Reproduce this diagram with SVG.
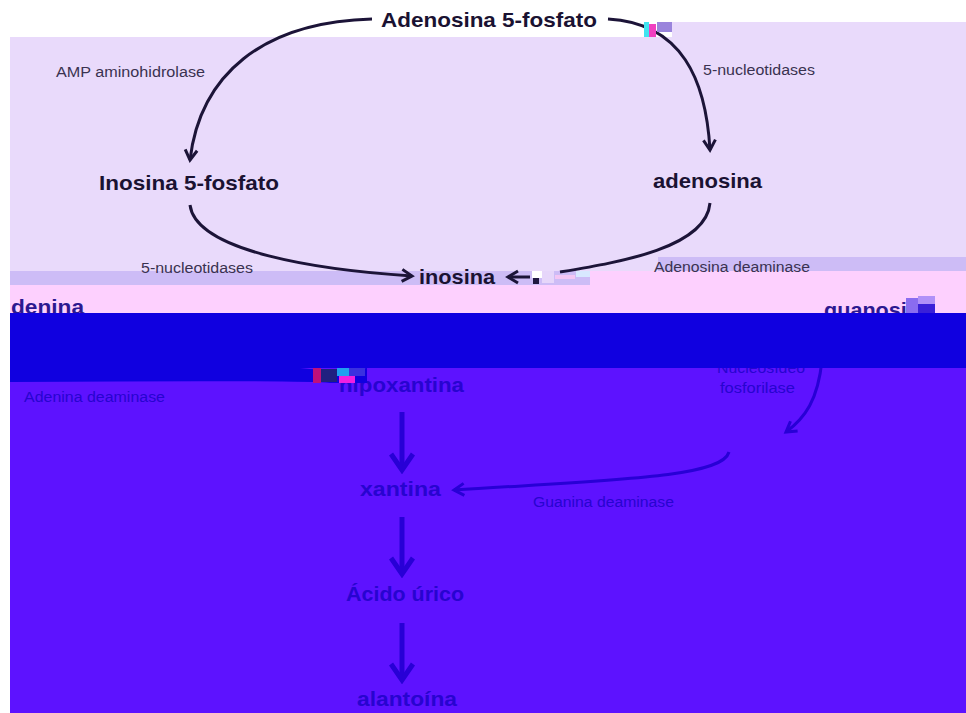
<svg xmlns="http://www.w3.org/2000/svg" width="966" height="713" viewBox="0 0 966 713">
<defs>
<style>
.b{font-family:"Liberation Sans","Noto Sans",sans-serif;font-weight:bold;font-size:21px;fill:#1a1232}
.r{font-family:"Liberation Sans","Noto Sans",sans-serif;font-size:14px;fill:#3a3250}
.bb{font-family:"Liberation Sans","Noto Sans",sans-serif;font-weight:bold;font-size:21px;fill:#2804d0}
.rb{font-family:"Liberation Sans","Noto Sans",sans-serif;font-size:14px;fill:#2804d0}
.pk{font-family:"Liberation Sans","Noto Sans",sans-serif;font-weight:bold;font-size:21px;fill:#2c1890}
.c{fill:none;stroke:#1c1438;stroke-width:3}
.cb{fill:none;stroke:#2800d6;stroke-width:3}
.v{fill:none;stroke:#2800d6;stroke-width:5}
</style>
<marker id="ah" markerUnits="userSpaceOnUse" markerWidth="16" markerHeight="16" refX="13" refY="8" orient="auto">
<path d="M3,2 L13,8 L3,14" fill="none" stroke="#1c1438" stroke-width="3"/>
</marker>
<marker id="ahb" markerUnits="userSpaceOnUse" markerWidth="16" markerHeight="16" refX="13" refY="8" orient="auto">
<path d="M3,2 L13,8 L3,14" fill="none" stroke="#2800d6" stroke-width="3"/>
</marker>
<marker id="ahv" markerUnits="userSpaceOnUse" markerWidth="24" markerHeight="26" refX="20" refY="13" orient="auto">
<path d="M4,2 L20,13 L4,24" fill="none" stroke="#2800d6" stroke-width="5"/>
</marker>
</defs>
<rect width="966" height="713" fill="#ffffff"/>
<g id="background">
<rect x="10" y="37" width="662" height="234" fill="#e9dafb"/>
<rect x="672" y="22" width="294" height="235" fill="#e9dafb"/>
<rect x="590" y="257" width="68" height="14" fill="#e9dafb"/>
<rect x="658" y="257" width="308" height="14" fill="#cdbcf6"/>
<rect x="10" y="271" width="580" height="14" fill="#cdbcf6"/>
<rect x="590" y="271" width="376" height="14" fill="#fdd0fe"/>
<rect x="10" y="285" width="956" height="28" fill="#fdd0fe"/>
<rect x="10" y="368" width="956" height="345" fill="#5d12ff"/>
</g>
<g id="connectors">
<path class="c" d="M372 19 C262 22 200 75 190 160" marker-end="url(#ah)"/>
<path class="c" d="M608 19 C682 23 706 80 710 150" marker-end="url(#ah)"/>
<path class="c" d="M190 205 C196 252 320 270 412 276" marker-end="url(#ah)"/>
<path class="c" d="M710 203 C706 248 620 262 560 272"/>
<path class="c" d="M530 277 L508 277" marker-end="url(#ah)"/>
<path class="cb" d="M822 360 C818 400 805 418 786 432" marker-end="url(#ahb)"/>
<path class="cb" d="M729 452 C722 478 610 480 454 490" marker-end="url(#ahb)"/>
<path class="v" d="M402 412 L402 470" marker-end="url(#ahv)"/>
<path class="v" d="M402 517 L402 574" marker-end="url(#ahv)"/>
<path class="v" d="M402 623 L402 680" marker-end="url(#ahv)"/>
</g>
<g id="n-amp"><text class="b" x="381" y="27" textLength="216" lengthAdjust="spacingAndGlyphs">Adenosina 5-fosfato</text></g>
<g id="l-amp-aminohidrolase"><text class="r" x="56" y="77" textLength="149" lengthAdjust="spacingAndGlyphs">AMP aminohidrolase</text></g>
<g id="l-5nuc-1"><text class="r" x="703" y="75" textLength="112" lengthAdjust="spacingAndGlyphs">5-nucleotidases</text></g>
<g id="n-imp"><text class="b" x="99" y="190" textLength="180" lengthAdjust="spacingAndGlyphs">Inosina 5-fosfato</text></g>
<g id="n-adenosina"><text class="b" x="653" y="188" textLength="109" lengthAdjust="spacingAndGlyphs">adenosina</text></g>
<g id="l-5nuc-2"><text class="r" x="141" y="273" textLength="112" lengthAdjust="spacingAndGlyphs">5-nucleotidases</text></g>
<g id="n-inosina"><text class="b" x="419" y="284" textLength="76" lengthAdjust="spacingAndGlyphs">inosina</text></g>
<g id="l-adenosina-deaminase"><text class="r" x="654" y="272" textLength="156" lengthAdjust="spacingAndGlyphs">Adenosina deaminase</text></g>
<g id="n-adenina"><text class="pk" x="11" y="314" textLength="73" lengthAdjust="spacingAndGlyphs">denina</text></g>
<g id="n-guanosina"><text class="pk" x="824" y="317" textLength="108" lengthAdjust="spacingAndGlyphs">guanosina</text></g>
<g id="n-hipoxantina"><text class="bb" x="339" y="392" textLength="125" lengthAdjust="spacingAndGlyphs">hipoxantina</text></g>
<g id="l-adenina-deaminase"><text class="rb" x="24" y="402" textLength="141" lengthAdjust="spacingAndGlyphs">Adenina deaminase</text></g>
<g id="l-nucleosideo"><text class="rb" x="717" y="373" textLength="88" lengthAdjust="spacingAndGlyphs">Nucleosídeo</text><text class="rb" x="720" y="393" textLength="75" lengthAdjust="spacingAndGlyphs">fosforilase</text></g>
<g id="n-xantina"><text class="bb" x="360" y="496" textLength="81" lengthAdjust="spacingAndGlyphs">xantina</text></g>
<g id="l-guanina-deaminase"><text class="rb" x="533" y="507" textLength="141" lengthAdjust="spacingAndGlyphs">Guanina deaminase</text></g>
<g id="n-acido-urico"><text class="bb" x="346" y="601" textLength="118" lengthAdjust="spacingAndGlyphs">Ácido úrico</text></g>
<g id="n-alantoina"><text class="bb" x="357" y="706" textLength="100" lengthAdjust="spacingAndGlyphs">alantoína</text></g>
<g id="overlays">
<rect x="10" y="313" width="956" height="55" fill="#1000e0"/>
<path d="M10 368 L300 368 Q340 372 367 368 L367 383 L330 383 Q300 380 10 382 Z" fill="#1000e0"/>
<rect x="644" y="22" width="5" height="15" fill="#40e4f0"/>
<rect x="649" y="24" width="7" height="13" fill="#f040c0"/>
<rect x="657" y="22" width="15" height="10" fill="#9a84dc"/>
<rect x="532" y="271" width="10" height="7" fill="#ffffff"/>
<rect x="533" y="278" width="6" height="6" fill="#201840"/>
<rect x="542" y="271" width="12" height="12" fill="#e6d6fa"/>
<rect x="555" y="275" width="20" height="4" fill="#f4c6f4"/>
<rect x="576" y="271" width="14" height="6" fill="#d8e8ff"/>
<rect x="313" y="368" width="8" height="15" fill="#c0107a"/>
<rect x="321" y="369" width="16" height="13" fill="#202080"/>
<rect x="337" y="368" width="12" height="8" fill="#20a0f0"/>
<rect x="339" y="376" width="16" height="7" fill="#f020e0"/>
<rect x="349" y="368" width="16" height="8" fill="#3a30e0"/>
<rect x="906" y="298" width="12" height="15" fill="#8a6cf0"/>
<rect x="918" y="296" width="17" height="8" fill="#b090f8"/>
<rect x="918" y="304" width="17" height="9" fill="#3a20d8"/>
</g>
</svg>
